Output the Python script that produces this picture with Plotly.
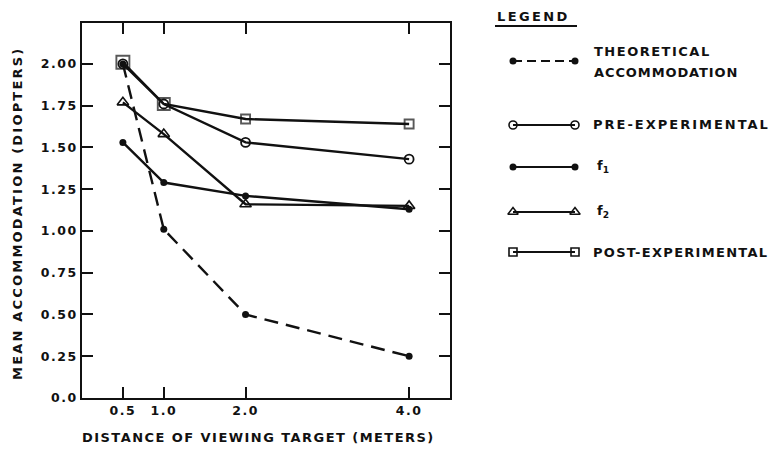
import plotly.graph_objects as go

W, H = 778, 449

# ---------------- data ----------------
distance = [0.5, 1.0, 2.0, 4.0]
theoretical = [2.00, 1.01, 0.50, 0.25]
pre_experimental = [2.00, 1.76, 1.53, 1.43]
f1 = [1.53, 1.29, 1.21, 1.13]
f2 = [1.77, 1.58, 1.16, 1.15]
post_experimental = [2.01, 1.76, 1.67, 1.64]

y_tick_vals = [0, 0.25, 0.5, 0.75, 1.0, 1.25, 1.5, 1.75, 2.0]
y_tick_labels = ["0.0", "0.25", "0.50", "0.75", "1.00", "1.25", "1.50", "1.75", "2.00"]
x_tick_vals = [0.5, 1.0, 2.0, 4.0]
x_tick_labels = ["0.5", "1.0", "2.0", "4.0"]

FONT = "DejaVu Sans"
BLACK = "#111111"


def sp(text, ls):
    return f'<span style="letter-spacing:{ls}px">{text}</span>'


# plot area in pixels
PL, PR, PT, PB = 82, 450, 23, 398

fig = go.Figure()

line_w = 2.4
series = [
    ("THEORETICAL ACCOMMODATION", theoretical,
     dict(color=BLACK, width=line_w, dash="14px,8px"),
     dict(symbol="circle", size=7, color=BLACK)),
    ("PRE-EXPERIMENTAL", pre_experimental,
     dict(color=BLACK, width=line_w),
     dict(symbol="circle-open", size=9, color=BLACK, line=dict(width=1.8, color=BLACK))),
    ("f1", f1,
     dict(color=BLACK, width=line_w),
     dict(symbol="circle", size=7, color=BLACK)),
    ("f2", f2,
     dict(color=BLACK, width=line_w),
     dict(symbol="triangle-up-open", size=10, color=BLACK, line=dict(width=1.6, color=BLACK))),
    ("POST-EXPERIMENTAL", post_experimental,
     dict(color=BLACK, width=line_w),
     dict(symbol="square-open", size=[13, 12, 9, 9], color=BLACK, line=dict(width=1.9, color=BLACK))),
]

for name, vals, ln, mk in series:
    fig.add_trace(go.Scatter(
        x=distance, y=vals, mode="lines+markers", name=name,
        line=ln, marker=mk, showlegend=False, cliponaxis=False,
    ))

# ---------------- hand-drawn style legend (pixel overlay axis) ----------------
legend_rows = [
    (61, dict(symbol="circle", size=7, color=BLACK), "9px,5px"),
    (125, dict(symbol="circle-open", size=8, color=BLACK, line=dict(width=1.6, color=BLACK)), "solid"),
    (167, dict(symbol="circle", size=7, color=BLACK), "solid"),
    (212, dict(symbol="triangle-up-open", size=9, color=BLACK, line=dict(width=1.5, color=BLACK)), "solid"),
    (252, dict(symbol="square-open", size=8, color=BLACK, line=dict(width=1.6, color=BLACK)), "solid"),
]
KX0, KX1 = 513, 575
for yy, mk, dash in legend_rows:
    fig.add_trace(go.Scatter(
        x=[KX0, KX1], y=[yy, yy], mode="lines+markers",
        line=dict(color=BLACK, width=2.2, dash=dash), marker=mk,
        xaxis="x2", yaxis="y2", showlegend=False, hoverinfo="skip", cliponaxis=False,
    ))


def px(x):
    return x / W


def py(y):
    return 1 - y / H


annotations = [
    dict(text=sp("LEGEND", 2.4), x=px(495), y=py(16), xanchor="left", yanchor="middle"),
    dict(text=sp("THEORETICAL", 1.5), x=px(592), y=py(52), xanchor="left", yanchor="middle"),
    dict(text=sp("ACCOMMODATION", 0.9), x=px(592), y=py(72), xanchor="left", yanchor="middle"),
    dict(text=sp("PRE-EXPERIMENTAL", 2.0), x=px(591), y=py(125), xanchor="left", yanchor="middle"),
    dict(text="f<sub>1</sub>", x=px(595), y=py(166), xanchor="left", yanchor="middle"),
    dict(text="f<sub>2</sub>", x=px(595), y=py(211), xanchor="left", yanchor="middle"),
    dict(text=sp("POST-EXPERIMENTAL", 1.3), x=px(591), y=py(252), xanchor="left", yanchor="middle"),
    dict(text=sp("MEAN ACCOMMODATION (DIOPTERS)", 2.2), x=px(17), y=py(214), textangle=-90,
         xanchor="center", yanchor="middle"),
    dict(text=sp("DISTANCE OF VIEWING TARGET (METERS)", 1.45), x=px(80), y=py(437),
         xanchor="left", yanchor="middle"),
]
for a in annotations:
    a.update(xref="paper", yref="paper", showarrow=False,
             font=dict(family=FONT, size=13, color=BLACK, weight="bold"))

shapes = [
    dict(type="line", xref="paper", yref="paper", x0=px(495), x1=px(577), y0=py(26), y1=py(26),
         line=dict(color=BLACK, width=1.8)),
]

axis_common = dict(
    showgrid=False, zeroline=False, showline=True, linecolor=BLACK, linewidth=1.8,
    mirror="ticks", ticks="inside", ticklen=11, tickwidth=1.8, tickcolor=BLACK,
    tickfont=dict(family=FONT, size=12.5, color=BLACK, weight="bold"),
    automargin=False, fixedrange=True,
)

fig.update_layout(
    width=W, height=H,
    margin=dict(l=0, r=0, t=0, b=0),
    paper_bgcolor="white", plot_bgcolor="rgba(0,0,0,0)",
    xaxis=dict(domain=[PL / W, PR / W], range=[0, 4.5], tickvals=x_tick_vals,
               ticktext=[sp(t, 1.5) for t in x_tick_labels], **axis_common),
    yaxis=dict(domain=[1 - PB / H, 1 - PT / H], range=[0, 2.245], tickvals=y_tick_vals,
               ticktext=[sp(t, 1.5) for t in y_tick_labels], **axis_common),
    xaxis2=dict(domain=[0, 1], range=[0, W], visible=False, anchor="y2", fixedrange=True),
    yaxis2=dict(domain=[0, 1], range=[H, 0], visible=False, anchor="x2", fixedrange=True),
    annotations=annotations,
    shapes=shapes,
    showlegend=False,
)

fig.write_html("out.html", config={"displayModeBar": False},
               post_script="document.body.style.margin='0';")
